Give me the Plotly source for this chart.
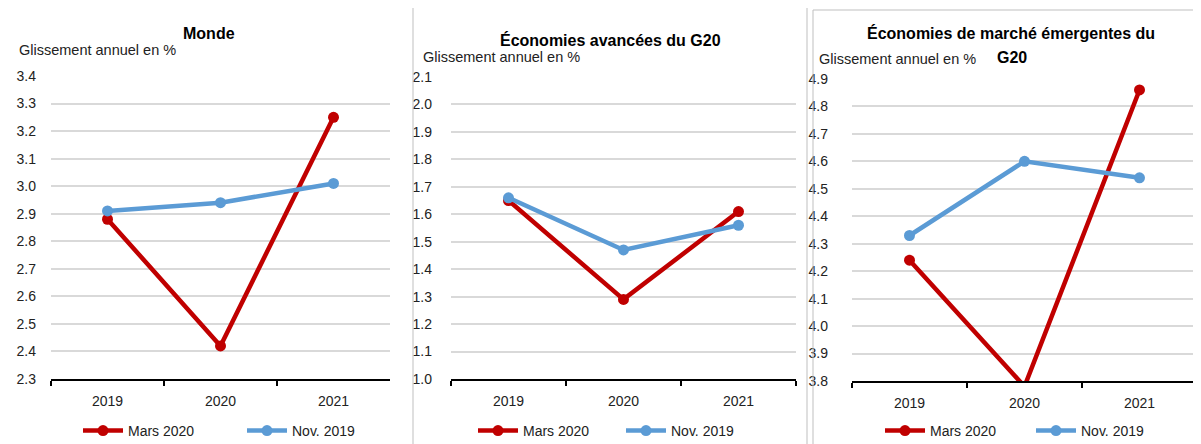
import plotly.graph_objects as go

# data
years = ["2019", "2020", "2021"]
panel_titles = ["<b>Monde</b>", "<b>Économies avancées du G20</b>",
                "<b>Économies de marché émergentes du</b>"]
unit_label = "Glissement annuel en %"

monde_mars = [2.88, 2.42, 3.25]
monde_nov = [2.91, 2.94, 3.01]
avancees_mars = [1.65, 1.29, 1.61]
avancees_nov = [1.66, 1.47, 1.56]
emergentes_mars = [4.24, 3.78, 4.86]
emergentes_nov = [4.33, 4.60, 4.54]

y_ranges = [[2.3, 3.4], [1.0, 2.1], [3.8, 4.9]]

RED = "#C00000"
BLUE = "#5B9BD5"
# the page body has an 8px margin, so the figure is drawn 8px in from the
# top-left corner; positions below are given in screenshot pixels
OFF = 8
W, H = 1201 - OFF, 444 - OFF
FONT = "Liberation Sans, Arial, sans-serif"


def px_x(p):
    return (p - OFF) / W


def px_y(p):
    return 1 - (p - OFF) / H


# plot areas in pixels: (left, right, top, bottom)
areas = [(51, 390, 76, 379), (451, 796, 77, 379), (852, 1197, 79, 381)]
ylabel_standoff = [14, 18, 23]
legend_x = [78, 473, 880]
legend_gap = [164, 148, 151]

series = [(monde_mars, monde_nov), (avancees_mars, avancees_nov),
          (emergentes_mars, emergentes_nov)]

fig = go.Figure()
layout = {}
for i, (mars, nov) in enumerate(series):
    n = "" if i == 0 else str(i + 1)
    leg = "legend" if i == 0 else f"legend{i + 1}"
    for name, vals, col in (("Mars 2020", mars, RED), ("Nov. 2019", nov, BLUE)):
        fig.add_trace(go.Scatter(
            x=years, y=vals, name=name, mode="lines+markers",
            line=dict(color=col, width=4.5), marker=dict(color=col, size=11),
            xaxis=f"x{n}", yaxis=f"y{n}", legend=leg,
        ))
    l, r, t, b = areas[i]
    layout[f"xaxis{n}"] = dict(
        domain=[px_x(l), px_x(r)], anchor=f"y{n}", type="category",
        range=[-0.5, 2.5], automargin=False,
        showline=True, linecolor="black", linewidth=2,
        ticks="outside", tickson="boundaries", ticklen=5, tickwidth=2,
        tickcolor="black", showgrid=False, ticklabelstandoff=8,
        tickfont=dict(size=14, color="#222", family=FONT),
    )
    layout[f"yaxis{n}"] = dict(
        domain=[px_y(b), px_y(t)], anchor=f"x{n}", range=y_ranges[i],
        automargin=False,
        dtick=0.1, tickformat=".1f", showgrid=True, gridcolor="#D9D9D9",
        gridwidth=1.5, zeroline=False, showline=False,
        ticklabelstandoff=ylabel_standoff[i],
        tickfont=dict(size=14, color="#222", family=FONT),
    )
    layout[leg] = dict(
        orientation="h", x=px_x(legend_x[i]), xanchor="left",
        y=px_y(431), yanchor="middle", entrywidth=legend_gap[i] - 55,
        entrywidthmode="pixels", bgcolor="rgba(0,0,0,0)",
        font=dict(size=14, color="#222", family=FONT),
        itemwidth=40, tracegroupgap=0,
    )

annotations = [
    dict(text=panel_titles[0], x=px_x(209), y=px_y(33)),
    dict(text=panel_titles[1], x=px_x(610), y=px_y(40)),
    dict(text=panel_titles[2], x=px_x(1011), y=px_y(33)),
    dict(text="<b>G20</b>", x=px_x(1012), y=px_y(58)),
]
for a in annotations:
    a.update(xref="paper", yref="paper", showarrow=False, xanchor="center",
             yanchor="middle", font=dict(size=16, color="black", family=FONT))
for x0, y0 in ((17, 50), (421, 57), (817, 59)):
    annotations.append(dict(
        text=unit_label, x=px_x(x0), y=px_y(y0), xref="paper", yref="paper",
        xanchor="left", yanchor="middle", showarrow=False,
        font=dict(size=14.5, color="#222", family=FONT),
    ))

shapes = [
    dict(type="rect", xref="paper", yref="paper", x0=px_x(413), x1=px_x(807),
         y0=-0.05, y1=px_y(6), line=dict(color="#BFBFBF", width=1)),
    dict(type="rect", xref="paper", yref="paper", x0=px_x(813), x1=1.05,
         y0=-0.05, y1=px_y(10), line=dict(color="#BFBFBF", width=1)),
]

fig.update_layout(
    width=W, height=H, margin=dict(l=0, r=0, t=0, b=0, autoexpand=False),
    paper_bgcolor="white", plot_bgcolor="white",
    annotations=annotations, shapes=shapes, **layout,
)
fig.write_html("out.html")
